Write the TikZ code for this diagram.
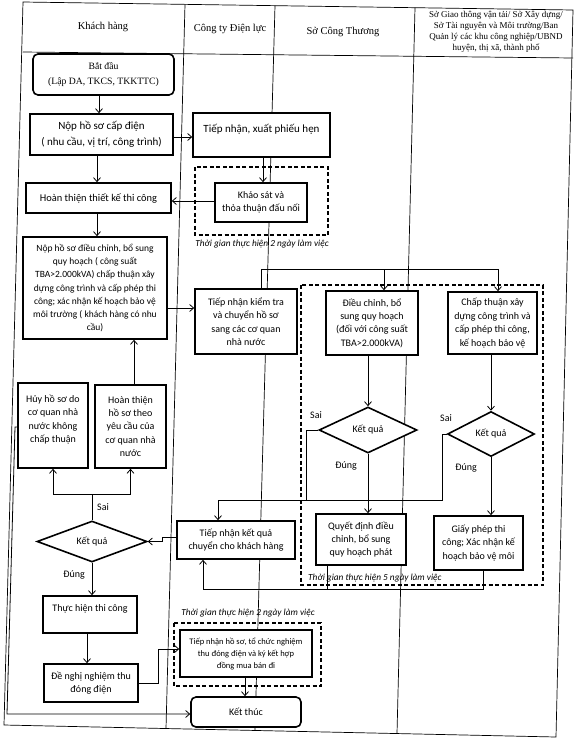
\documentclass[tikz,border=0pt]{standalone}
\usepackage{fontspec}
\setmainfont{Liberation Serif}
\newfontfamily\carlito{Carlito}
\usetikzlibrary{arrows.meta,shapes.geometric,backgrounds}
\begin{document}
\begin{tikzpicture}[x=1pt,y=-1pt,
  box/.style={draw, line width=1.6pt, fill=white, inner sep=1pt, align=center, font=\carlito\fontsize{10}{13.4}\selectfont},
  rbox/.style={box, rounded corners=5pt},
  dec/.style={diamond, aspect=2, draw, line width=1.6pt, fill=white, inner sep=0pt, font=\carlito\fontsize{10}{12}\selectfont},
  conn/.style={line width=0.8pt},
  arr/.style={line width=0.8pt, -{Straight Barb[length=4pt,width=7pt]}},
  dbox/.style={draw, line width=1.1pt, dash pattern=on 4pt off 2.5pt},
  lab/.style={inner sep=0pt, font=\carlito\itshape\fontsize{9.3}{11}\selectfont},
  txt/.style={inner sep=0pt, font=\carlito\fontsize{10}{12}\selectfont},
  hdr/.style={inner sep=0pt, align=center, font=\rmfamily\fontsize{10.5}{12}\selectfont},
  grid/.style={line width=0.7pt}
]
\useasboundingbox (0,0) rectangle (575,742);

% header texts
\node[hdr] (hkh) at (103,27) {Khách hàng};
\node[hdr] (hcty) at (230,29) {Công ty Điện lực};
\node[hdr] (hsct) at (343,32) {Sở Công Thương};
\node[hdr, font=\rmfamily\fontsize{9}{11.2}\selectfont] (hso) at (496,32) {Sở Giao thông vận tải/ Sở Xây dựng/\\Sở Tài nguyên và Môi trường/Ban\\Quản lý các khu công nghiệp/UBND\\huyện, thị xã, thành phố};

% boxes
\node[rbox, font=\rmfamily\fontsize{9.7}{15}\selectfont, minimum width=141pt, minimum height=41pt] (start) at (103.5,74.5) {Bắt đầu\\(Lập DA, TKCS, TKKTTC)};
\node[box, minimum width=143pt, minimum height=41pt, font=\carlito\fontsize{11}{16}\selectfont] (nop) at (101.5,134.5) {Nộp hồ sơ cấp điện\\( nhu cầu, vị trí, công trình)};
\node[box, minimum width=137pt, minimum height=44pt, font=\carlito\fontsize{11}{13}\selectfont] (tn1) at (261.5,135) {Tiếp nhận, xuất phiếu hẹn\\\mbox{}};
\node[box, minimum width=92pt, minimum height=39pt] (ks) at (261,202.5) {Khảo sát và\\thỏa thuận đấu nối};
\node[box, minimum width=145pt, minimum height=30pt, font=\carlito\fontsize{10.4}{13}\selectfont] (httk) at (98.5,198) {Hoàn thiện thiết kế thi công};
\node[box, minimum width=144pt, minimum height=102pt, font=\carlito\fontsize{9.5}{13.3}\selectfont] (nhs) at (95,288) {Nộp hồ sơ điều chỉnh, bổ sung\\quy hoạch ( công suất\\TBA>2.000kVA) chấp thuận xây\\dựng công trình và cấp phép thi\\công; xác nhận kế hoạch bảo vệ\\môi trường ( khách hàng có nhu\\cầu)};
\node[box, minimum width=102pt, minimum height=65pt] (tnkt) at (246,321.5) {Tiếp nhận kiểm tra\\và chuyển hồ sơ\\sang các cơ quan\\nhà nước};
\node[box, minimum width=92pt, minimum height=64pt] (dc) at (372,323) {Điều chỉnh, bổ\\sung quy hoạch\\(đối với công suất\\TBA>2.000kVA)};
\node[box, minimum width=89pt, minimum height=62pt] (ct) at (492.5,323) {Chấp thuận xây\\dựng công trình và\\cấp phép thi công,\\kế hoạch bảo vệ};
\node[dec, minimum width=98pt, minimum height=46pt] (d1) at (368,430) {Kết quả};
\node[dec, minimum width=87pt, minimum height=45pt] (d2) at (491,434) {Kết quả};
\node[box, minimum width=90pt, minimum height=51pt] (qd) at (361,539.5) {Quyết định điều\\chỉnh, bổ sung\\quy hoạch phát};
\node[box, minimum width=89pt, minimum height=54pt] (gp) at (478.5,543) {Giấy phép thi\\công; Xác nhận kế\\hoạch bảo vệ môi};
\node[box, minimum width=118pt, minimum height=38pt] (tnkq) at (236,540) {Tiếp nhận kết quả\\chuyển cho khách hàng};
\node[dec, minimum width=110pt, minimum height=41pt] (d3) at (92,541.5) {Kết quả};
\node[box, minimum width=70pt, minimum height=85pt] (huy) at (53,425.5) {Hủy hồ sơ do\\cơ quan nhà\\nước không\\chấp thuận\\\mbox{}};
\node[box, minimum width=71pt, minimum height=83pt] (hths) at (130.5,426.5) {Hoàn thiện\\hồ sơ theo\\yêu cầu của\\cơ quan nhà\\nước};
\node[box, minimum width=94pt, minimum height=37pt] (th) at (90,614.5) {Thực hiện thi công\\\mbox{}};
\node[box, minimum width=94pt, minimum height=38pt] (dn) at (91,683) {Đề nghị nghiệm thu\\đóng điện};
\node[box, minimum width=132pt, minimum height=47pt, font=\carlito\fontsize{8.5}{12}\selectfont] (tnhs) at (246,653.5) {Tiếp nhận hồ sơ, tổ chức nghiệm\\thu đóng điện và ký kết hợp\\đồng mua bán đi};
\node[rbox, minimum width=110pt, minimum height=30pt] (kt) at (246,712) {Kết thúc};

% labels
\node[txt] (sai1) at (316,415) {Sai};
\node[txt] (dung1) at (346,466) {Đúng};
\node[txt] (sai2) at (446,418) {Sai};
\node[txt] (dung2) at (466,468) {Đúng};
\node[txt] (sai3) at (103,507) {Sai};
\node[txt] (dung3) at (74,575) {Đúng};

% background: frame, dashed groups
\begin{scope}[on background layer]
\fill[white] (0,0) rectangle (575,742);
\draw[grid] (23,2) -- (573,10) -- (556,737) -- (4,725) -- cycle;
\draw[grid] (23,52) -- (573,58);
\draw[grid] (185,4.4) -- (166,728.5);
\draw[grid] (275,5.7) -- (255,730.5);
\draw[grid] (415,7.7) -- (397,733.6);
\draw[dbox] (195,167) rectangle (328,235);
\draw[dbox] (301,285) rectangle (543,585);
\draw[dbox] (174,623) rectangle (321,686);
\end{scope}
\node[lab] (l1) at (262,244) {Thời gian thực hiện 2 ngày làm việc};
\node[lab, anchor=west] (l2) at (308,578) {Thời gian thực hiện 5 ngày làm việc};
\node[lab] (l3) at (248,613) {Thời gian thực hiện 2 ngày làm việc};

% connectors
\coordinate (ka) at (99,0);
\draw[arr] (start.south -| ka) -- (nop.north -| ka);
\coordinate (kb) at (0,137);
\draw[arr] (nop.east |- kb) -- (tn1.west |- kb);
\coordinate (kc) at (97,0);
\draw[arr] (nop.south -| kc) -- (httk.north -| kc);
\coordinate (kd) at (263,0);
\draw[arr] (tn1.south -| kd) -- (ks.north -| kd);
\coordinate (ke) at (0,201);
\draw[arr] (ks.west |- ke) -- (httk.east |- ke);
\draw[arr] (httk.south -| kc) -- (nhs.north -| kc);
\coordinate (kg) at (0,308);
\draw[arr] (nhs.east |- kg) -- (tnkt.west |- kg);
\coordinate (h0) at (261,269);
\coordinate (h1) at (384,269);
\coordinate (h2) at (498,269);
\draw[conn] (tnkt.north -| h0) -- (h0) -- (h2);
\draw[arr] (h1) -- (dc.north -| h1);
\draw[arr] (h2) -- (ct.north -| h2);
\draw[arr] (dc.south -| d1.north) -- (d1.north);
\draw[arr] (ct.south -| d2.north) -- (d2.north);
\draw[arr] (d1.south) -- (d1.south |- qd.north);
\draw[arr] (d2.south) -- (d2.south |- gp.north);
\coordinate (m1) at (306,500);
\coordinate (m2) at (442,500);
\coordinate (m3) at (218,500);
\draw[conn] (d1.west) -| (m1);
\draw[arr] (d2.west) -| (m2) -- (m3) -- (tnkq.north -| m3);
\coordinate (n1) at (327,589);
\coordinate (n2) at (483,589);
\coordinate (n3) at (203,589);
\draw[conn] (qd.south -| n1) -- (n1);
\draw[arr] (gp.south -| n2) -- (n2) -- (n3) -- (tnkq.south -| n3);
\coordinate (o1) at (162,537);
\draw[arr] (tnkq.west |- o1) -- (o1) -- (o1 |- d3.east) -- (d3.east);
\coordinate (p0) at (92,494);
\draw[conn] (d3.north) -- (d3.north |- p0);
\draw[arr] (d3.north |- p0) -| (huy.south);
\draw[arr] (d3.north |- p0) -| (hths.south);
\coordinate (q) at (134,0);
\draw[arr] (hths.north -| q) -- (nhs.south -| q);
\draw[arr] (d3.south) -- (d3.south |- th.north);
\coordinate (s) at (87,0);
\draw[arr] (th.south -| s) -- (dn.north -| s);
\coordinate (t1) at (158,683);
\coordinate (t2) at (158,649);
\draw[arr] (dn.east |- t1) -- (t1) -- (t2) -- (tnhs.west |- t2);
\coordinate (u) at (245,0);
\draw[arr] (tnhs.south -| u) -- (kt.north -| u);
\coordinate (v1) at (15,427);
\coordinate (v2) at (7,714);
\draw[arr] (huy.west |- v1) -- (v1) -- (v2) -- (kt.west |- v2);
\end{tikzpicture}
\end{document}
